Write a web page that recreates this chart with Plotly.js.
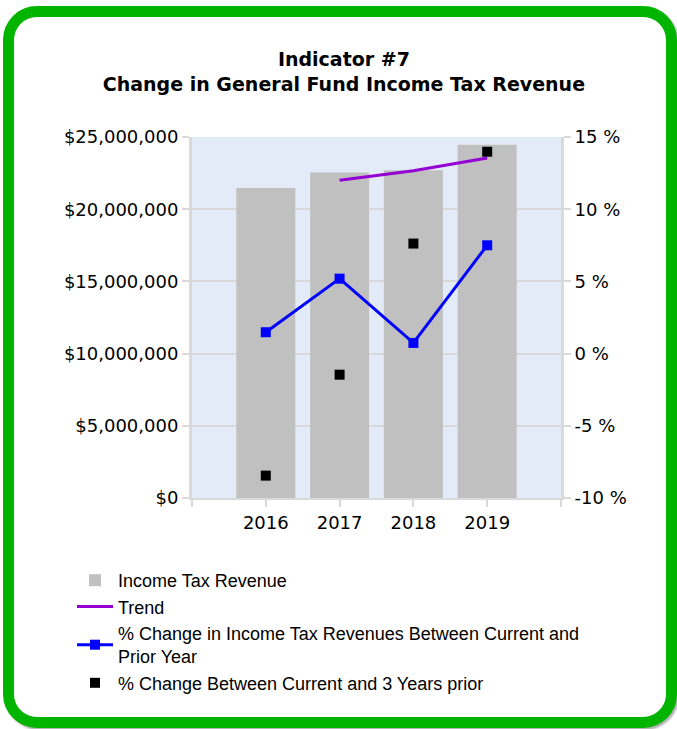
<!DOCTYPE html>
<html>
<head>
<meta charset="utf-8">
<script src="https://cdn.plot.ly/plotly-3.0.1.min.js"></script>
<style>
  html, body { margin: 0; padding: 0; background: #ffffff; }
  #wrap { position: relative; width: 677px; height: 729px; overflow: hidden; }
  #frame {
    position: absolute; left: 3px; top: 6px; width: 652px; height: 700px;
    border: 11px solid #00b400; border-radius: 34px; background: #ffffff;
    box-shadow: 2px 2px 2px rgba(80,80,80,0.45);
  }
  #chart { position: absolute; left: 0; top: 0; width: 677px; height: 729px; }
</style>
</head>
<body>
<div id="wrap">
  <div id="frame"></div>
  <div id="chart"></div>
</div>
<script>
const years = [2016, 2017, 2018, 2019];
const revenue = [21460000, 22550000, 22700000, 24470000];
const trendYears = [2017, 2018, 2019];
const trendPct = [12.0, 12.66, 13.55];
const pctPriorYear = [1.48, 5.19, 0.74, 7.5];
const pct3Years = [-8.45, -1.46, 7.62, 13.98];
const xTickVals = [2015, 2016, 2017, 2018, 2019, 2020];
const xTickText = ['', '2016', '2017', '2018', '2019', ''];
const leftTickVals = [0, 5000000, 10000000, 15000000, 20000000, 25000000];
const leftTickText = ['$0', '$5,000,000', '$10,000,000', '$15,000,000', '$20,000,000', '$25,000,000'];
const rightTickVals = [-10, -5, 0, 5, 10, 15];
const rightTickText = ['-10 %', '-5 %', '0 %', '5 %', '10 %', '15 %'];

const tickFont = { family: 'DejaVu Sans, sans-serif', size: 18, color: '#000000' };
const gridC = '#d9d9d9';

const traces = [
  {
    type: 'bar', x: years, y: revenue, name: 'Income Tax Revenue',
    marker: { color: '#c0c0c0' }, width: 0.8, yaxis: 'y'
  },
  {
    type: 'scatter', mode: 'lines', x: trendYears, y: trendPct, name: 'Trend',
    line: { color: '#9400d3', width: 3 }, yaxis: 'y2'
  },
  {
    type: 'scatter', mode: 'lines+markers', x: years, y: pctPriorYear,
    name: '% Change in Income Tax Revenues Between Current and<br>Prior Year',
    line: { color: '#0000ff', width: 3 },
    marker: { color: '#0000ff', symbol: 'square', size: 10 }, yaxis: 'y2'
  },
  {
    type: 'scatter', mode: 'markers', x: years, y: pct3Years,
    name: '% Change Between Current and 3 Years prior',
    marker: { color: '#000000', symbol: 'square', size: 10 }, yaxis: 'y2'
  }
];

const layout = {
  width: 677, height: 729,
  paper_bgcolor: 'rgba(0,0,0,0)',
  plot_bgcolor: '#e4ebf8',
  margin: { l: 192, r: 116, t: 137, b: 231, pad: 0, autoexpand: false },
  title: {
    text: '<b>Indicator #7<br>Change in General Fund Income Tax Revenue</b>',
    font: { family: 'DejaVu Sans, sans-serif', size: 19, color: '#000000' },
    xref: 'container', x: 0.508, xanchor: 'center',
    yref: 'container', y: 1 - 66 / 729, yanchor: 'top'
  },
  showlegend: true,
  legend: {
    xref: 'container', yref: 'container',
    x: 72 / 677, xanchor: 'left', y: 1 - 562 / 729, yanchor: 'top',
    font: { family: 'Liberation Sans, Arial, sans-serif', size: 18, color: '#000000' },
    bgcolor: 'rgba(0,0,0,0)', itemwidth: 36, traceorder: 'normal',
    tracegroupgap: 0
  },
  xaxis: {
    range: [2015, 2020], tickmode: 'array', tickvals: xTickVals, ticktext: xTickText,
    showgrid: false, zeroline: false,
    showline: true, linecolor: gridC, linewidth: 2,
    ticks: 'outside', ticklen: 7, tickcolor: gridC, tickwidth: 2,
    tickfont: tickFont, fixedrange: true
  },
  yaxis: {
    range: [0, 25000000], tickmode: 'array', tickvals: leftTickVals, ticktext: leftTickText,
    showgrid: true, gridcolor: gridC, gridwidth: 2, zeroline: false,
    showline: true, linecolor: gridC, linewidth: 3,
    ticks: 'outside', ticklen: 7, tickcolor: gridC, tickwidth: 2,
    tickfont: tickFont
  },
  yaxis2: {
    range: [-10, 15], tickmode: 'array', tickvals: rightTickVals, ticktext: rightTickText,
    overlaying: 'y', side: 'right',
    showgrid: false, zeroline: false,
    showline: true, linecolor: gridC, linewidth: 3,
    ticks: 'outside', ticklen: 7, tickcolor: gridC, tickwidth: 2,
    tickfont: tickFont
  },
  bargap: 0.2
};

Plotly.newPlot('chart', traces, layout, { displayModeBar: false, staticPlot: true });
</script>
</body>
</html>
